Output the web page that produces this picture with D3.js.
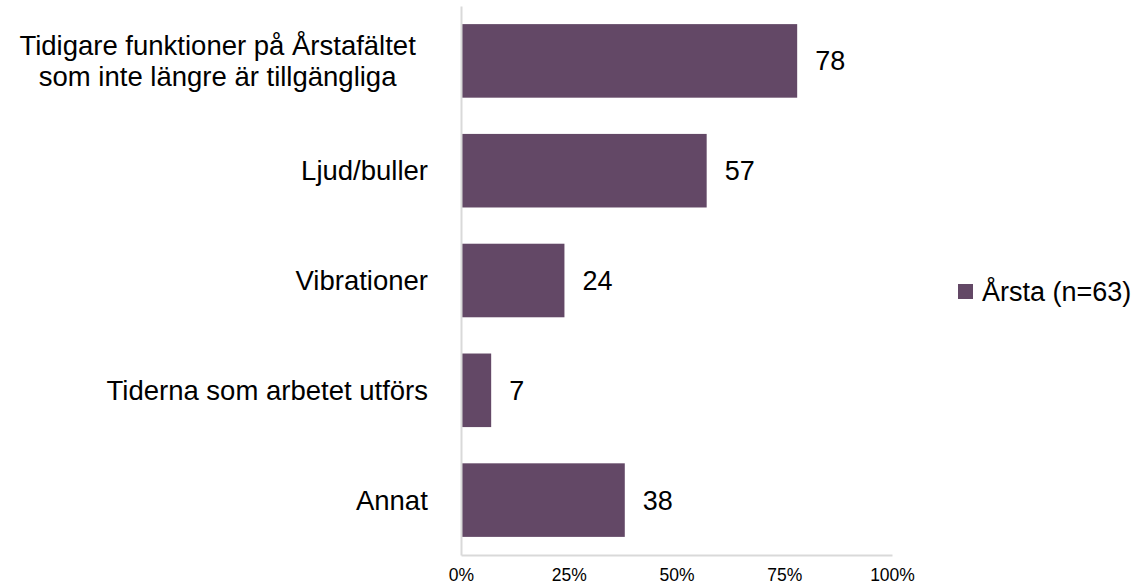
<!DOCTYPE html>
<html>
<head>
<meta charset="utf-8">
<script src="https://cdn.jsdelivr.net/npm/d3@7/dist/d3.min.js"></script>
<style>
  html, body { margin: 0; padding: 0; background: #fff; }
  svg { display: block; font-family: "Liberation Sans", Arial, sans-serif; }
</style>
</head>
<body>
<svg id="chart" width="1142" height="588"></svg>
<script>
const categories = [
  ["Tidigare funktioner på Årstafältet", "som inte längre är tillgängliga"],
  ["Ljud/buller"],
  ["Vibrationer"],
  ["Tiderna som arbetet utförs"],
  ["Annat"]
];
const values = [78, 57, 24, 7, 38];
const tickValues = [0, 25, 50, 75, 100];
const tickLabels = ["0%", "25%", "50%", "75%", "100%"];
const seriesName = "Årsta (n=63)";

const svg = d3.select("#chart");
const barColor = "#634866";
const axisColor = "#d9d9d9";

const x = d3.scaleLinear().domain([0, 100]).range([461, 892]);
const y = d3.scaleBand().domain(d3.range(categories.length)).range([6, 555]).paddingInner(0.33).paddingOuter(0.165);

// bars
svg.selectAll("rect.bar").data(values).join("rect")
  .attr("class", "bar")
  .attr("x", x(0))
  .attr("y", (d, i) => y(i))
  .attr("width", d => x(d) - x(0))
  .attr("height", y.bandwidth())
  .attr("fill", barColor);

// axes lines
const xAxis = d3.axisBottom(x).tickValues(tickValues).tickFormat((d, i) => tickLabels[i]).tickSize(0).tickPadding(14);
const gx = svg.append("g").attr("transform", "translate(0,555)").call(xAxis);
gx.select(".domain").attr("stroke", axisColor).attr("stroke-width", 2);
gx.selectAll("text").attr("font-size", 17.5).attr("fill", "#000").attr("font-family", "Liberation Sans, Arial, sans-serif");

const yAxis = d3.axisLeft(y).tickSize(0).tickFormat(() => "");
const gy = svg.append("g").attr("transform", "translate(461,0)").call(yAxis);
gy.select(".domain").attr("stroke", axisColor).attr("stroke-width", 2);

// category labels
const lab = svg.append("g").attr("font-size", 27.5).attr("fill", "#000");
categories.forEach((lines, i) => {
  const cy = y(i) + y.bandwidth() / 2;
  const lh = 31;
  const right = lines.length > 1 ? 416 : 428;
  const t = lab.append("text").attr("text-anchor", "middle");
  lines.forEach((ln, j) => {
    t.append("tspan").attr("x", 0).attr("y", cy + (j - (lines.length - 1) / 2) * lh).attr("dy", "0.35em").text(ln);
  });
  const w = t.node().getBBox().width;
  t.selectAll("tspan").attr("x", right - w / 2);
});

// value labels
svg.selectAll("text.val").data(values).join("text")
  .attr("class", "val")
  .attr("x", d => x(d) + 18)
  .attr("y", (d, i) => y(i) + y.bandwidth() / 2)
  .attr("dy", "0.35em")
  .attr("font-size", 27)
  .text(d => d);

// legend
const lg = svg.append("g").attr("transform", "translate(958,284)");
lg.append("rect").attr("width", 15).attr("height", 15).attr("fill", barColor);
lg.append("text").attr("x", 24).attr("y", 7.5).attr("dy", "0.35em").attr("font-size", 27).text(seriesName);
</script>
</body>
</html>
